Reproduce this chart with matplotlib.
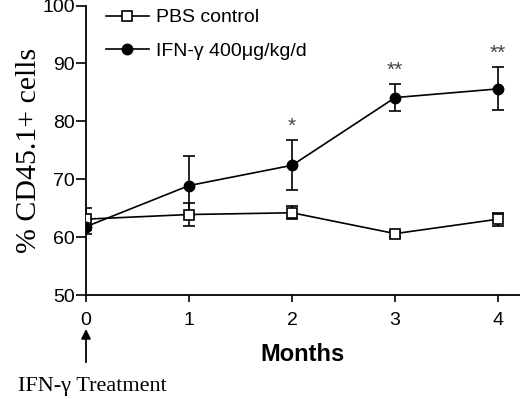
import matplotlib
matplotlib.use("Agg")
import matplotlib.pyplot as plt
from matplotlib.lines import Line2D

# values
months = [0, 1, 2, 3, 4]
pbs_mean = [63.1, 63.9, 64.2, 60.6, 63.1]
pbs_err = [1.9, 2.0, 1.1, 0.5, 1.1]
ifn_mean = [61.8, 68.9, 72.4, 84.1, 85.6]
ifn_err = [1.2, 5.1, 4.3, 2.3, 3.7]
stars = {2: "*", 3: "**", 4: "**"}

plt.rcParams['font.family'] = ['Liberation Sans', 'DejaVu Sans']

fig = plt.figure(figsize=(5.2, 3.99), dpi=100)
ax = fig.add_axes([86 / 520, 104 / 399, 434 / 520, 289.5 / 399])

ax.errorbar(months, pbs_mean, yerr=pbs_err, color='black', lw=1.2,
            marker='s', ms=7, mfc='white', mec='black', mew=1.2,
            capsize=4.5, elinewidth=1.2, capthick=1.2, zorder=3)
ax.errorbar(months, ifn_mean, yerr=ifn_err, color='black', lw=1.2,
            marker='o', ms=7.5, mfc='black', mec='black',
            capsize=4.5, elinewidth=1.2, capthick=1.2, zorder=3)

for m, s in stars.items():
    i = months.index(m)
    ax.text(m, ifn_mean[i] + ifn_err[i] + 0.8, s, ha='center', va='bottom',
            fontsize=15, color='#444444')

ax.set_xlim(0, 434 / 103.05)
ax.set_ylim(50, 100)
ax.set_xticks(months)
ax.set_yticks([50, 60, 70, 80, 90, 100])
ax.tick_params(axis='both', labelsize=14, width=1.2, direction='out')
ax.tick_params(axis='x', length=5, pad=7)
ax.tick_params(axis='y', length=7, pad=1)

for side in ['top', 'right']:
    ax.spines[side].set_visible(False)
for side in ['left', 'bottom']:
    ax.spines[side].set_linewidth(1.3)

ax.set_xlabel('Months', fontsize=17, fontweight='bold', labelpad=10)
ax.set_ylabel('% CD45.1+ cells', fontsize=21.5, family='Liberation Serif',
              labelpad=0)

handles = [
    Line2D([], [], color='black', lw=1.2, marker='s', ms=7, mfc='white',
           mec='black', mew=1.2),
    Line2D([], [], color='black', lw=1.2, marker='o', ms=7.5, mfc='black'),
]
ax.legend(handles, ['PBS control', 'IFN-γ 400μg/kg/d'], loc='upper left',
          bbox_to_anchor=(98 / 520, 1 - 1 / 399), bbox_transform=fig.transFigure,
          borderaxespad=0, frameon=False, fontsize=14, handlelength=2.2,
          labelspacing=0.8, handletextpad=0.4)

# treatment arrow below the axis
ax.annotate('', xy=(0, 44.6), xytext=(0, 37.9),
            arrowprops=dict(arrowstyle='-|>', color='black', lw=1.3,
                            mutation_scale=14),
            annotation_clip=False)
fig.text(18 / 520, 1 - 387 / 399, 'IFN-γ Treatment', ha='left',
         va='center', fontsize=16, family='Liberation Serif')

fig.savefig('out.png', dpi=100)
